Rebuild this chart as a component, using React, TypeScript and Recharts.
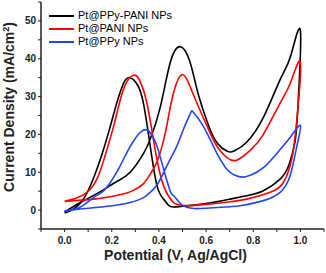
import { Label, Legend, Line, LineChart, XAxis, YAxis } from "recharts";

// Cyclic voltammograms: each loop is the forward scan (0 -> 1 V) followed by the reverse scan (1 -> 0 V).
const ppyPaniV = [
  0.0, 0.067, 0.15, 0.22, 0.278, 0.335, 0.363, 0.405, 0.448, 0.49, 0.53, 0.561, 0.59, 0.617, 0.65, 0.688, 0.71,
  0.73, 0.773, 0.843, 0.914, 0.96, 1.0, 0.99, 0.977, 0.95, 0.914, 0.843, 0.773, 0.702, 0.6, 0.5, 0.46, 0.44, 0.42,
  0.392, 0.363, 0.335, 0.31, 0.278, 0.25, 0.22, 0.194, 0.16, 0.123, 0.08, 0.038, 0.0,
];
const ppyPaniJ = [
  -0.5, 2, 4.8, 7.5, 10, 15, 18.7, 27, 39, 43.2, 39.5, 32, 26, 21.3, 17.5, 15.6, 15.4, 16, 18, 24.5, 34.5, 41, 47.4,
  28, 18, 11.7, 8.2, 5.1, 3.8, 2.9, 1.7, 1.0, 0.8, 1.3, 2.9, 6.4, 17, 28, 33, 35, 33.5, 28, 22.2, 15, 8.5, 2.9, 0.3,
  -0.8,
];

const paniV = [
  0.0, 0.123, 0.2, 0.264, 0.3, 0.335, 0.363, 0.39, 0.42, 0.44, 0.462, 0.497, 0.53, 0.561, 0.617, 0.65, 0.688, 0.73,
  0.787, 0.843, 0.914, 0.96, 1.0, 0.985, 0.963, 0.928, 0.872, 0.773, 0.702, 0.6, 0.5, 0.476, 0.462, 0.42, 0.384,
  0.349, 0.32, 0.3, 0.27, 0.24, 0.208, 0.17, 0.137, 0.095, 0.05, 0.0,
];
const paniJ = [
  2.3, 2.9, 3.6, 4.5, 5.5, 7, 9.5, 12.5, 18.5, 24.5, 31, 35.8, 33, 28.3, 20.4, 16.5, 13.9, 13.2, 15.8, 20, 28.3, 34,
  39, 24, 13.4, 7.3, 4.7, 2.9, 2.2, 1.5, 1.2, 1.6, 2, 6.4, 16, 28.3, 34, 35.6, 34.5, 30, 22.2, 14, 8.2, 4.7, 3.2, 2.3,
];

const ppyV = [
  0.0, 0.067, 0.194, 0.278, 0.335, 0.363, 0.39, 0.42, 0.448, 0.476, 0.505, 0.533, 0.545, 0.58, 0.617, 0.65, 0.688,
  0.72, 0.755, 0.787, 0.843, 0.914, 0.96, 1.0, 0.985, 0.956, 0.914, 0.843, 0.75, 0.702, 0.6, 0.55, 0.515, 0.49, 0.462,
  0.448, 0.42, 0.392, 0.37, 0.349, 0.32, 0.29, 0.264, 0.23, 0.194, 0.16, 0.123, 0.067, 0.0,
];
const ppyJ = [
  -0.3, 0.3, 1.1, 2, 3.3, 4.7, 6.5, 9.9, 13.5, 16.9, 21.5, 25.5, 25.9, 23, 18.7, 14.5, 10.8, 9.3, 8.7, 9.2, 11.2, 16,
  19.5, 22.4, 16.9, 9, 4.7, 2.5, 1.2, 0.9, 0.5, 0.4, 0.8, 1.8, 3.8, 5, 10.8, 16.9, 19.8, 21.2, 20.5, 18, 15.2, 11, 7.3,
  4.8, 3.3, 0.8, -0.2,
];

const seriesNames = ["Pt@PPy-PANI NPs", "Pt@PANI NPs", "Pt@PPy NPs"];
const xTicks = [-0.1, 0, 0.1, 0.2, 0.3, 0.4, 0.5, 0.6, 0.7, 0.8, 0.9, 1.0, 1.1];
const yTicks = [-5, 0, 5, 10, 15, 20, 25, 30, 35, 40, 45, 50, 55];

const COLORS = ["#000000", "#ff0000", "#2244ff"];
const FONT = '"Liberation Sans", Arial, sans-serif';

const toPoints = (vs: number[], js: number[]) => vs.map((v, i) => ({ v, j: js[i] }));

const loops = [toPoints(ppyPaniV, ppyPaniJ), toPoints(paniV, paniJ), toPoints(ppyV, ppyJ)];

const fmtX = (t: number) => {
  const k = Math.round(t * 10);
  return k >= 0 && k <= 10 && k % 2 === 0 ? t.toFixed(1) : "";
};
const fmtY = (t: number) => (t >= 0 && t <= 50 && t % 10 === 0 ? String(t) : "");

// legend drawn from the series list so it keeps the reference order
function LegendBox() {
  return (
    <div style={{ fontFamily: FONT, fontSize: 11, lineHeight: "13.2px", color: "#000" }}>
      {seriesNames.map((name, i) => (
        <div key={name} style={{ display: "flex", alignItems: "center", whiteSpace: "nowrap" }}>
          <svg width={27} height={4} style={{ marginRight: 2 }}>
            <line x1={0} x2={25} y1={2} y2={2} stroke={COLORS[i]} strokeWidth={2} />
          </svg>
          <span>{name}</span>
        </div>
      ))}
    </div>
  );
}

const tickStyle = { fontSize: 10, fontWeight: 700, fill: "#222", fontFamily: FONT };
const axisLine = { stroke: "#222", strokeWidth: 1.5 };

export default function App() {
  return (
    <div style={{ position: "absolute", left: 0, top: 0 }}>
      <LineChart width={326} height={273} margin={{ top: 2, right: 2, bottom: 0, left: 0 }}>
        <XAxis
          xAxisId="x"
          dataKey="v"
          type="number"
          domain={[-0.1, 1.1]}
          ticks={xTicks}
          tickFormatter={fmtX}
          interval={0}
          tick={tickStyle}
          tickSize={3}
          tickMargin={5}
          tickLine={{ stroke: "#222" }}
          axisLine={axisLine}
          height={44}
          allowDataOverflow
        >
          <Label
            value="Potential (V, Ag/AgCl)"
            position="insideBottom"
            offset={13}
            dx={-7}
            style={{ fontSize: 14, fontWeight: 700, fill: "#222", fontFamily: FONT }}
          />
        </XAxis>
        <XAxis
          xAxisId="top"
          orientation="top"
          type="number"
          domain={[-0.1, 1.1]}
          height={0}
          tick={false}
          tickLine={false}
          axisLine={axisLine}
        />
        <YAxis
          yAxisId="y"
          type="number"
          domain={[-5, 55]}
          ticks={yTicks}
          tickFormatter={fmtY}
          interval={0}
          tick={tickStyle}
          tickSize={3}
          tickMargin={2}
          tickLine={{ stroke: "#222" }}
          axisLine={axisLine}
          width={41}
          allowDataOverflow
        >
          <Label
            position="insideLeft"
            content={() => (
              <text
                x={14}
                y={107}
                transform="rotate(-90 14 107)"
                textAnchor="middle"
                style={{ fontSize: 14, fontWeight: 700, fill: "#222", fontFamily: FONT }}
              >
                Current Density (mA/cm
                <tspan dy={-5} fontSize={9}>
                  2
                </tspan>
                <tspan dy={5}>)</tspan>
              </text>
            )}
          />
        </YAxis>
        <YAxis
          yAxisId="right"
          orientation="right"
          type="number"
          domain={[-5, 55]}
          width={0}
          tick={false}
          tickLine={false}
          axisLine={axisLine}
        />
        <Legend
          layout="vertical"
          align="center"
          verticalAlign="middle"
          content={<LegendBox />}
          wrapperStyle={{ position: "absolute", left: 49, top: 9, width: "auto" }}
        />
        {loops.map((data, i) => (
          <Line
            key={seriesNames[i]}
            xAxisId="x"
            yAxisId="y"
            data={data}
            dataKey="j"
            name={seriesNames[i]}
            type="natural"
            stroke={COLORS[i]}
            strokeWidth={1.6}
            dot={false}
            activeDot={false}
            isAnimationActive={false}
          />
        ))}
      </LineChart>
    </div>
  );
}
